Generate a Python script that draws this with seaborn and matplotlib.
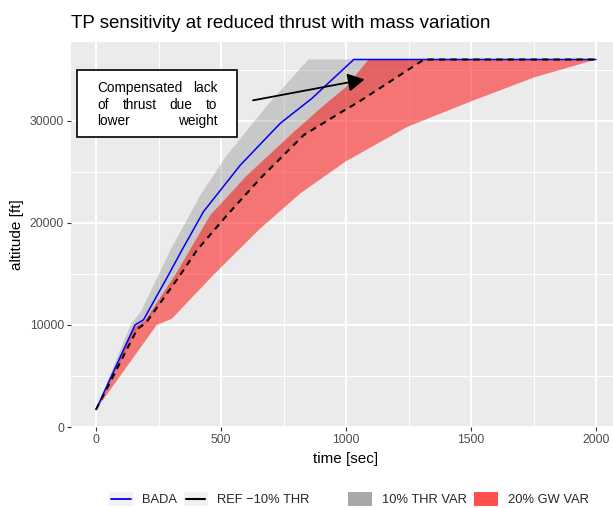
import numpy as np
import matplotlib
matplotlib.use("Agg")
import matplotlib.pyplot as plt
import seaborn as sns
from matplotlib.patches import Rectangle, Patch
from matplotlib.lines import Line2D
from matplotlib.legend_handler import HandlerLine2D

# ---------------- data ----------------
time_bada = [0, 156, 190, 290, 343, 430, 577, 737, 864, 1031, 2000]
alt_bada = [1700, 10000, 10500, 14900, 17300, 21100, 25650, 29750, 32200, 36000, 36000]

time_ref = [0, 165, 200, 337, 403, 524, 657, 831, 978, 1051, 1312, 2000]
alt_ref = [1700, 9600, 10200, 14900, 17300, 20750, 24350, 28600, 30800, 31850, 36000, 36000]

# 10% thrust variation band: upper edge (lower edge is the REF -10% THR line)
time_thr_hi = [0, 140, 180, 297, 417, 524, 697, 850, 2000]
alt_thr_hi = [1700, 10100, 11300, 17300, 22700, 26650, 31850, 36000, 36000]

# 20% gross weight variation band
time_gw_hi = [0, 150, 195, 317, 457, 604, 791, 911, 1000, 1090, 2000]
alt_gw_hi = [1700, 9700, 10400, 14900, 20750, 24650, 28900, 31500, 33300, 36000, 36000]
time_gw_lo = [0, 243, 303, 470, 657, 818, 998, 1245, 1500, 1753, 2000]
alt_gw_lo = [1700, 10000, 10600, 14900, 19450, 22900, 26000, 29400, 31900, 34250, 36000]

x_ticks = [0, 500, 1000, 1500, 2000]
y_ticks = [0, 10000, 20000, 30000]
title = "TP sensitivity at reduced thrust with mass variation"
note_lines = ["Compensated lack", "of thrust due to", "lower weight"]

# ---------------- style ----------------
sns.set_theme(style="darkgrid")
plt.rcParams["font.family"] = ["Liberation Sans", "DejaVu Sans"]

fig = plt.figure(figsize=(6.13, 5.08), dpi=100, facecolor="white")
W, H = 613, 508
ax = fig.add_axes([71 / W, (H - 427.2) / H, 550 / W, 385.2 / H])
ax.set_facecolor("#EBEBEB")
for s in ax.spines.values():
    s.set_visible(False)

# ribbons
ax.fill(np.concatenate([time_thr_hi, time_ref[::-1]]),
        np.concatenate([alt_thr_hi, alt_ref[::-1]]),
        color="#7F7F7F", alpha=0.32, lw=0, zorder=2)
ax.fill(np.concatenate([time_gw_hi, time_gw_lo[::-1]]),
        np.concatenate([alt_gw_hi, alt_gw_lo[::-1]]),
        color="red", alpha=0.5, lw=0, zorder=3)

# lines
sns.lineplot(x=time_bada, y=alt_bada, color="blue", lw=1.1, ax=ax, zorder=4)
sns.lineplot(x=time_ref, y=alt_ref, color="black", lw=1.5,
             linestyle=(0, (3, 2.5)), ax=ax, zorder=5)

ax.set_xlim(-100, 2100)
ax.set_ylim(-15, 37715)
ax.set_xticks(x_ticks)
ax.set_yticks(y_ticks)
ax.set_xticklabels([str(v) for v in x_ticks])
ax.set_yticklabels([str(v) for v in y_ticks])
ax.set_xticks([250, 750, 1250, 1750], minor=True)
ax.set_yticks([5000, 15000, 25000, 35000], minor=True)
ax.set_axisbelow(True)
ax.grid(which="major", color="white", lw=1.4)
ax.grid(which="minor", color="white", lw=0.7)
ax.tick_params(which="major", length=2.9, width=0.8, color="#333333",
               labelcolor="#4D4D4D", labelsize=8.8, pad=2.2,
               bottom=True, left=True)
ax.tick_params(which="minor", length=0)

ax.set_xlabel("time [sec]", fontsize=11, color="black", labelpad=4)
ax.set_ylabel("altitude [ft]", fontsize=11, color="black", labelpad=4)
ax.set_title(title, loc="left", fontsize=13.5, color="black", pad=10)

# annotation box + arrow
ax.add_patch(Rectangle((-76, 28430), 641, 6570, facecolor="white",
                       edgecolor="black", lw=1.2, zorder=6))
ax.annotate("", xy=(1074, 34050), xytext=(628, 32000),
            arrowprops=dict(arrowstyle="-|>,head_length=1.0,head_width=0.55",
                            mutation_scale=10, lw=1.3, color="black",
                            shrinkA=0, shrinkB=0), zorder=7)

# legends
class KeyBgLine(HandlerLine2D):
    def create_artists(self, legend, orig_handle, xdescent, ydescent,
                       width, height, fontsize, trans):
        bg = Rectangle((-xdescent, -ydescent), width, height,
                       facecolor="#F2F2F2", edgecolor="none", transform=trans)
        ln = Line2D([-xdescent + width * 0.1, -xdescent + width * 0.9],
                    [height / 2 - ydescent] * 2,
                    color=orig_handle.get_color(),
                    lw=orig_handle.get_linewidth(), transform=trans)
        return [bg, ln]

fs_leg = 9.3
leg_y = 1 - 499 / H
line_handles = [Line2D([], [], color="blue", lw=1.3),
                Line2D([], [], color="black", lw=1.5)]
leg1 = fig.legend(handles=line_handles, labels=["BADA", "REF \u221210% THR"],
                  loc="center left", bbox_to_anchor=(109 / W, leg_y),
                  ncol=2, frameon=False, fontsize=fs_leg, borderpad=0,
                  borderaxespad=0, handlelength=1.86, handleheight=1.32,
                  handletextpad=0.7, columnspacing=0.5,
                  handler_map={Line2D: KeyBgLine()})
fill_handles = [Patch(facecolor="#A8A8A8", edgecolor="none"),
                Patch(facecolor="#FF5050", edgecolor="none")]
leg2 = fig.legend(handles=fill_handles, labels=["10% THR VAR", "20% GW VAR"],
                  loc="center left", bbox_to_anchor=(348 / W, leg_y),
                  ncol=2, frameon=False, fontsize=fs_leg, borderpad=0,
                  borderaxespad=0, handlelength=1.86, handleheight=1.32,
                  handletextpad=0.75, columnspacing=0.6)

# justified annotation text
fig.canvas.draw()
renderer = fig.canvas.get_renderer()
x_left, x_right = 6, 485
line_y = [33250, 31550, 29950]
inv = ax.transData.inverted()
for line, y in zip(note_lines, line_y):
    words = line.split()
    texts = [ax.text(0, y, w, fontsize=9.8, va="center", ha="left",
                     color="black", zorder=8) for w in words]
    widths = [t.get_window_extent(renderer).width for t in texts]
    d_l = ax.transData.transform((x_left, y))
    d_r = ax.transData.transform((x_right, y))
    gap = (d_r[0] - d_l[0] - sum(widths)) / max(len(words) - 1, 1)
    cur = d_l[0]
    for t, w in zip(texts, widths):
        t.set_x(inv.transform((cur, d_l[1]))[0])
        cur += w + gap

fig.savefig("out.png", dpi=100, facecolor="white")
